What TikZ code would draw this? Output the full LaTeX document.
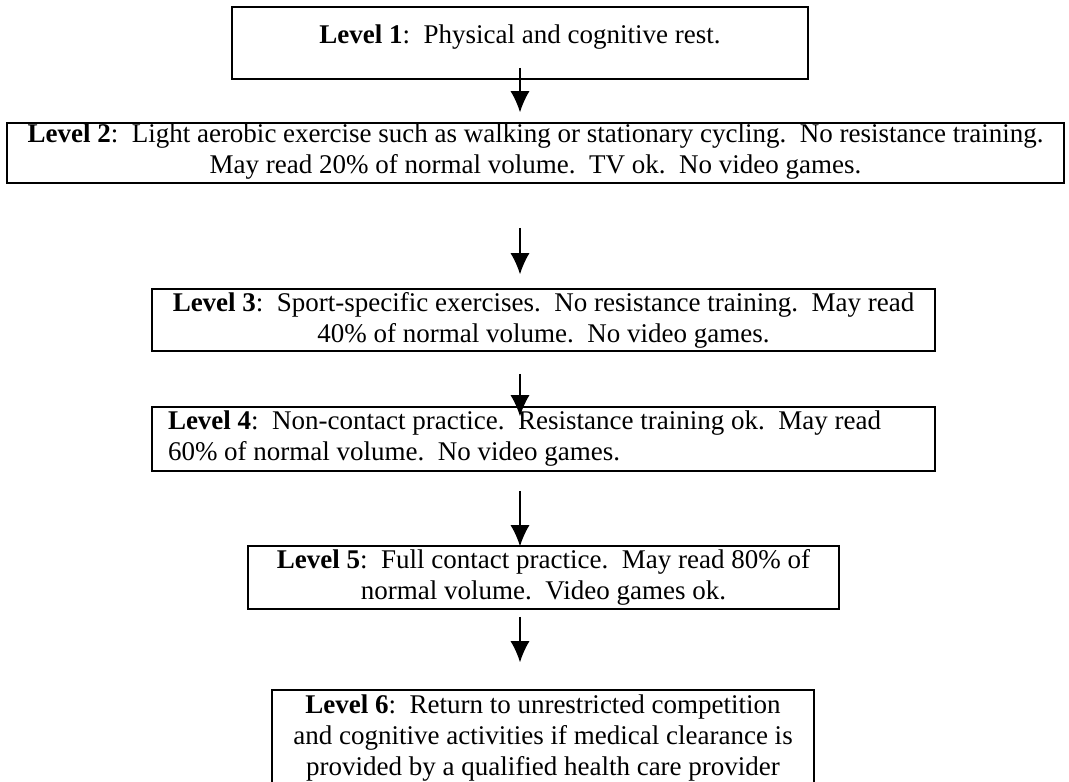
\documentclass[tikz,border=0pt]{standalone}
\usepackage{fontspec}
\setmainfont{Liberation Serif}
\usetikzlibrary{arrows.meta,positioning,calc}

\begin{document}
\begin{tikzpicture}[x=1pt,y=-1pt,every node/.style={font=\fontsize{27}{31}\selectfont},
        box/.style={draw,line width=1.6pt,inner sep=0pt,align=center},
        arr/.style={-{Latex[length=21pt,width=19pt]},line width=1.1pt}]
      \useasboundingbox (0,0) rectangle (1069,782);
      \clip (0,0) rectangle (1069,782);
      \node[box,minimum width=576pt,minimum height=72pt,text depth=18pt] (lv1) at (520,43)
        {\textbf{Level 1}:~~Physical and cognitive rest.};
      \node[box,minimum width=1057pt,minimum height=60pt,text depth=9pt] (lv2) at (535.5,153)
        {\textbf{Level 2}:~~Light aerobic exercise such as walking or stationary cycling.~~No resistance training.\\
         May read 20\% of normal volume.~~TV ok.~~No video games.};
      \node[box,minimum width=783pt,minimum height=62pt] (lv3) at (543.5,320)
        {\textbf{Level 3}:~~Sport-specific exercises.~~No resistance training.~~May read\\
         40\% of normal volume.~~No video games.};
      \node[box,minimum width=783pt,minimum height=64pt,text width=751pt,align=flush left] (lv4) at (543.5,439)
        {\textbf{Level 4}:~~Non-contact practice.~~Resistance training ok.~~May read\\
         60\% of normal volume.~~No video games.};
      \node[box,minimum width=591pt,minimum height=63pt] (lv5) at (543.5,577.5)
        {\textbf{Level 5}:~~Full contact practice.~~May read 80\% of\\
         normal volume.~~Video games ok.};
      \node[box,minimum width=542pt,minimum height=96pt] (lv6) at (543,738)
        {\textbf{Level 6}:~~Return to unrestricted competition\\
         and cognitive activities if medical clearance is\\
         provided by a qualified health care provider};
      \draw[arr] ($(lv1.south)+(0,-12)$)--($(lv1.south |- lv2.north)+(0,-10)$);
      \draw[arr] ($(lv1.south |- lv2.south)+(0,44)$)--($(lv1.south |- lv3.north)+(0,-14)$);
      \draw[arr] ($(lv1.south |- lv3.south)+(0,22)$)--($(lv1.south |- lv4.north)+(0,10)$);
      \draw[arr] ($(lv1.south |- lv4.south)+(0,19)$)--($(lv1.south |- lv5.north)+(0,1)$);
      \draw[arr] ($(lv1.south |- lv5.south)+(0,7)$)--($(lv1.south |- lv6.north)+(0,-27)$);
    \end{tikzpicture}
\end{document}
